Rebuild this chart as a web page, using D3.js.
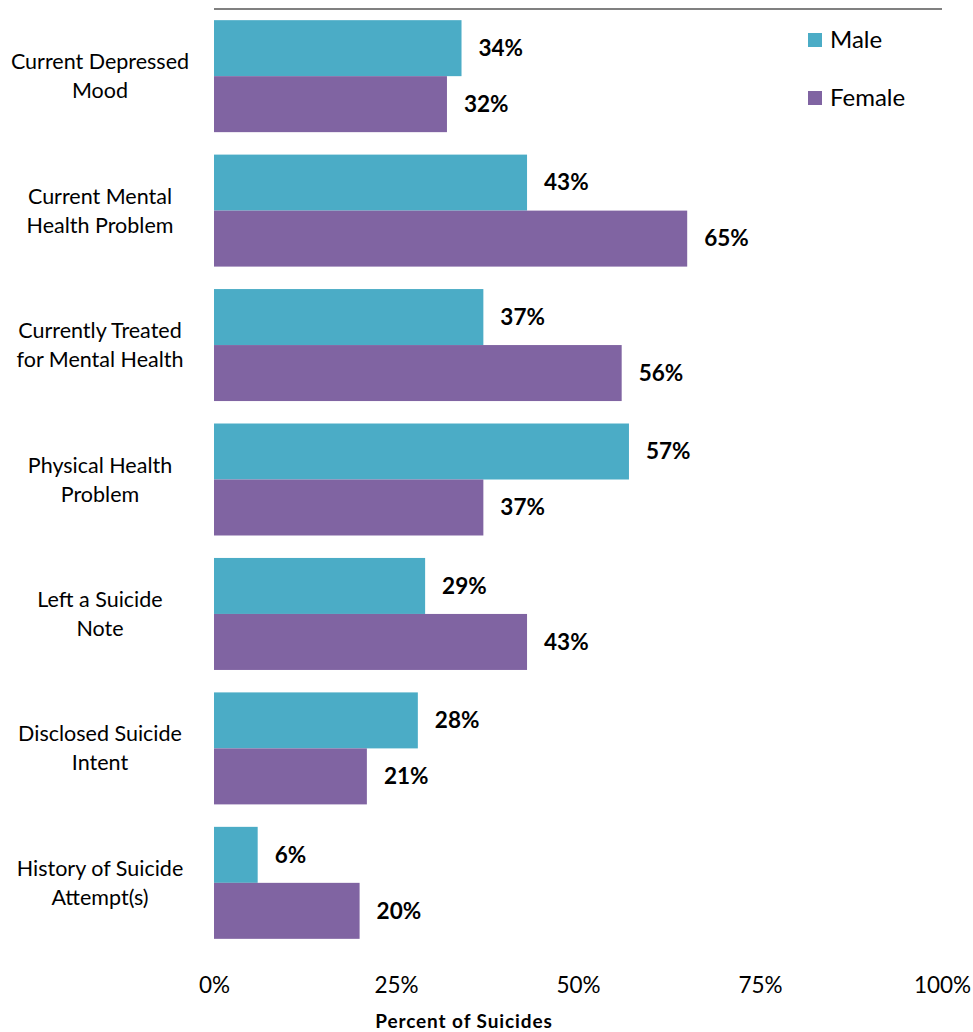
<!DOCTYPE html>
<html>
<head>
<meta charset="utf-8">
<script src="https://cdn.jsdelivr.net/npm/d3@7"></script>
<style>
  body { margin: 0; background: #fff; }
  text { font-family: Lato, "Open Sans", sans-serif; fill: #000; }
</style>
</head>
<body>
<div class="canvas"></div>
<script>
// data
const categories = [
  ['Current Depressed', 'Mood'],
  ['Current Mental', 'Health Problem'],
  ['Currently Treated', 'for Mental Health'],
  ['Physical Health', 'Problem'],
  ['Left a Suicide', 'Note'],
  ['Disclosed Suicide', 'Intent'],
  ['History of Suicide', 'Attempt(s)']
];
const seriesNames = ['Male', 'Female'];
const maleValues = [34, 43, 37, 57, 29, 28, 6];
const femaleValues = [32, 65, 56, 37, 43, 21, 20];
const tickValues = [0, 25, 50, 75, 100];
const colors = ['#4BACC6', '#8064A2'];

const width = 973, height = 1032;
const margin = { top: 9, right: 31, bottom: 82, left: 214 };
const graphWidth = width - margin.left - margin.right;
const graphHeight = height - margin.top - margin.bottom;

const svg = d3.select('.canvas')
  .append('svg')
  .attr('width', width)
  .attr('height', height);

const graph = svg.append('g')
  .attr('transform', `translate(${margin.left}, ${margin.top})`);

const x = d3.scaleLinear()
  .domain([0, 100])
  .range([0, graphWidth]);

const y = d3.scaleBand()
  .domain(d3.range(categories.length))
  .range([0, graphHeight])
  .paddingInner(0.167)
  .paddingOuter(0.083);

const sub = d3.scaleBand()
  .domain([0, 1])
  .range([0, y.bandwidth()]);

// top border line
graph.append('line')
  .attr('x1', 0).attr('x2', graphWidth)
  .attr('y1', 0).attr('y2', 0)
  .attr('stroke', '#808080')
  .attr('stroke-width', 2);

const rows = categories.map((c, i) => ({ i, values: [maleValues[i], femaleValues[i]] }));

const groups = graph.selectAll('g.row')
  .data(rows)
  .enter().append('g')
  .attr('class', 'row')
  .attr('transform', d => `translate(0, ${y(d.i)})`);

const bars = groups.selectAll('g.bar')
  .data(d => d.values.map((v, s) => ({ v, s })))
  .enter().append('g');

bars.append('rect')
  .attr('x', 0)
  .attr('y', d => sub(d.s))
  .attr('width', d => x(d.v))
  .attr('height', sub.bandwidth())
  .attr('fill', d => colors[d.s]);

bars.append('text')
  .attr('x', d => x(d.v) + 17)
  .attr('y', d => sub(d.s) + sub.bandwidth() / 2)
  .attr('dy', '0.35em')
  .attr('font-size', 22.5)
  .attr('font-weight', 'bold')
  .text(d => `${d.v}%`);

// category labels
const catLabels = svg.append('g');
categories.forEach((lines, i) => {
  const cy = margin.top + y(i) + y.bandwidth() / 2;
  const t = catLabels.append('text')
    .attr('x', 100)
    .attr('y', cy - 14.5)
    .attr('text-anchor', 'middle')
    .attr('font-size', 21.5);
  lines.forEach((line, k) => {
    t.append('tspan')
      .attr('x', 100)
      .attr('dy', k === 0 ? '0.35em' : 29)
      .text(line);
  });
});

// x axis
const xAxis = d3.axisBottom(x)
  .tickValues(tickValues)
  .tickSize(0)
  .tickPadding(0)
  .tickFormat(d => `${d}%`);

const xAxisGroup = graph.append('g')
  .attr('transform', `translate(0, ${graphHeight})`)
  .call(xAxis);
xAxisGroup.select('.domain').remove();
xAxisGroup.selectAll('text')
  .attr('y', 35)
  .attr('dy', '0.35em')
  .attr('font-size', 22.5)
  .style('font-family', 'Lato, "Open Sans", sans-serif')
  .attr('fill', '#000');

svg.append('text')
  .attr('x', 464)
  .attr('y', 1021)
  .attr('dy', '0.35em')
  .attr('text-anchor', 'middle')
  .attr('font-size', 19)
  .attr('letter-spacing', 0.9)
  .attr('font-weight', 'bold')
  .text('Percent of Suicides');

// legend
const legend = svg.append('g')
  .selectAll('g')
  .data(seriesNames)
  .enter().append('g')
  .attr('transform', (d, i) => `translate(808, ${40 + i * 58})`);
legend.append('rect')
  .attr('x', 0).attr('y', -7)
  .attr('width', 14).attr('height', 14)
  .attr('fill', (d, i) => colors[i]);
legend.append('text')
  .attr('x', 22)
  .attr('dy', '0.35em')
  .attr('font-size', 24)
  .text(d => d);
</script>
</body>
</html>
